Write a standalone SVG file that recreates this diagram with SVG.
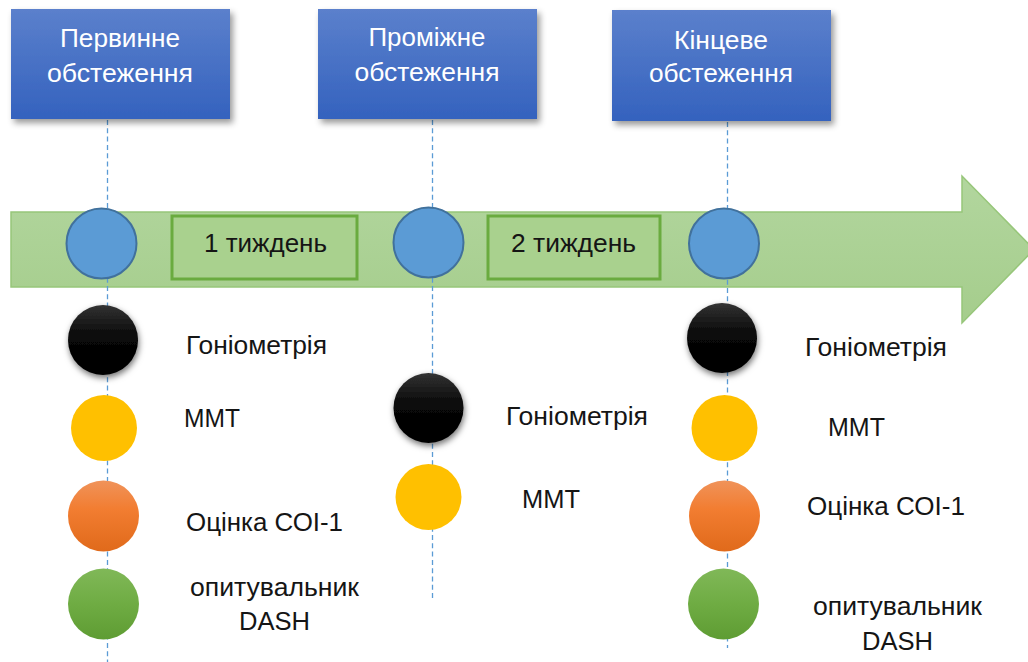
<svg xmlns="http://www.w3.org/2000/svg" width="1028" height="662" viewBox="0 0 1028 662">
<defs>
<linearGradient id="gBox" x1="0" y1="0" x2="0" y2="1"><stop offset="0" stop-color="#5b80cc"/><stop offset="1" stop-color="#3462be"/></linearGradient>
<linearGradient id="gArrow" x1="0" y1="0" x2="0" y2="1"><stop offset="0" stop-color="#b2d69e"/><stop offset="1" stop-color="#a5cd8c"/></linearGradient>
<linearGradient id="gBlack" x1="0" y1="0" x2="0" y2="1"><stop offset="0" stop-color="#333333"/><stop offset="0.45" stop-color="#080808"/><stop offset="1" stop-color="#000"/></linearGradient>
<linearGradient id="gOrange" x1="0" y1="0" x2="0" y2="1"><stop offset="0" stop-color="#f0935a"/><stop offset="0.4" stop-color="#f27d31"/><stop offset="1" stop-color="#e06a1b"/></linearGradient>
<linearGradient id="gGreen" x1="0" y1="0" x2="0" y2="1"><stop offset="0" stop-color="#80b858"/><stop offset="0.5" stop-color="#6fac43"/><stop offset="1" stop-color="#5e9c33"/></linearGradient>
<filter id="shBox" x="-10%" y="-10%" width="125%" height="130%"><feDropShadow dx="3" dy="4" stdDeviation="3" flood-color="#000" flood-opacity="0.4"/></filter>
<filter id="shDot" x="-30%" y="-30%" width="160%" height="170%"><feDropShadow dx="1" dy="3" stdDeviation="3" flood-color="#000" flood-opacity="0.55"/></filter>
</defs>
<style>
.box{fill:url(#gBox);filter:url(#shBox)}
.bt{font-family:"Liberation Sans",Arial,sans-serif;font-size:25px;fill:#ffffff;text-anchor:middle}
.lbl{font-family:"Liberation Sans",Arial,sans-serif;font-size:25px;fill:#151515}
.wk{fill:#a9d18e;stroke:#6aab3f;stroke-width:3}
.blue{fill:#5b9bd5;stroke:#41719c;stroke-width:2}
.dash{stroke:#5b9bd5;stroke-width:1.3;stroke-dasharray:5 3.3;fill:none}
.blk{fill:url(#gBlack);filter:url(#shDot)}
.yel{fill:#ffc000}
.org{fill:url(#gOrange)}
.grn{fill:url(#gGreen)}
</style>
<rect width="1028" height="662" fill="#ffffff"/>

<g id="timeline-arrow">
<path d="M11,212 H962 V176 L1034,249.5 L962,323 V287 H11 Z" fill="url(#gArrow)" stroke="#97c67a" stroke-width="1.5"/>
</g>

<g id="connectors">
<line class="dash" x1="107.5" y1="120" x2="107.5" y2="662"/>
<line class="dash" x1="432.5" y1="120" x2="432.5" y2="601"/>
<line class="dash" x1="727.5" y1="122" x2="727.5" y2="648"/>
</g>

<g id="box-primary">
<rect class="box" x="11" y="9" width="219" height="110"/>
<text class="bt" x="120" y="47" textLength="120" lengthAdjust="spacingAndGlyphs">Первинне</text>
<text class="bt" x="120" y="82" textLength="146" lengthAdjust="spacingAndGlyphs">обстеження</text>
</g>
<g id="box-intermediate">
<rect class="box" x="318" y="9" width="219" height="110"/>
<text class="bt" x="427" y="46" textLength="117" lengthAdjust="spacingAndGlyphs">Проміжне</text>
<text class="bt" x="427" y="81" textLength="145" lengthAdjust="spacingAndGlyphs">обстеження</text>
</g>
<g id="box-final">
<rect class="box" x="612" y="10" width="219" height="111"/>
<text class="bt" x="721" y="49" textLength="94" lengthAdjust="spacingAndGlyphs">Кінцеве</text>
<text class="bt" x="721" y="82" textLength="144" lengthAdjust="spacingAndGlyphs">обстеження</text>
</g>

<g id="week-1">
<rect class="wk" x="172" y="216" width="185" height="63"/>
<text class="lbl" x="204" y="252" textLength="123" lengthAdjust="spacingAndGlyphs">1 тиждень</text>
</g>
<g id="week-2">
<rect class="wk" x="488" y="216" width="172" height="63"/>
<text class="lbl" x="511" y="252" textLength="125" lengthAdjust="spacingAndGlyphs">2 тиждень</text>
</g>

<g id="milestone-1"><circle class="blue" cx="101.5" cy="243.5" r="35"/></g>
<g id="milestone-2"><circle class="blue" cx="428.5" cy="242.5" r="35"/></g>
<g id="milestone-3"><circle class="blue" cx="724" cy="243.5" r="35"/></g>

<g id="col1-goniometry">
<circle class="blk" cx="103" cy="340" r="35"/>
<text class="lbl" x="186" y="354" textLength="141" lengthAdjust="spacingAndGlyphs">Гоніометрія</text>
</g>
<g id="col1-mmt">
<circle class="yel" cx="104" cy="428" r="33"/>
<text class="lbl" x="184" y="427" textLength="56" lengthAdjust="spacingAndGlyphs">ММТ</text>
</g>
<g id="col1-coi">
<circle class="org" cx="103.5" cy="516" r="35.5"/>
<text class="lbl" x="186" y="531" textLength="157" lengthAdjust="spacingAndGlyphs">Оцінка СОІ-1</text>
</g>
<g id="col1-dash">
<circle class="grn" cx="103.5" cy="604" r="35.5"/>
<text class="lbl" x="190" y="596" textLength="169" lengthAdjust="spacingAndGlyphs">опитувальник</text>
<text class="lbl" x="239" y="630" textLength="71" lengthAdjust="spacingAndGlyphs">DASH</text>
</g>

<g id="col2-goniometry">
<circle class="blk" cx="428.5" cy="408" r="35"/>
<text class="lbl" x="506" y="425" textLength="142" lengthAdjust="spacingAndGlyphs">Гоніометрія</text>
</g>
<g id="col2-mmt">
<circle class="yel" cx="428.5" cy="497" r="33"/>
<text class="lbl" x="522" y="508" textLength="58" lengthAdjust="spacingAndGlyphs">ММТ</text>
</g>

<g id="col3-goniometry">
<circle class="blk" cx="722" cy="338" r="35"/>
<text class="lbl" x="805" y="356" textLength="142" lengthAdjust="spacingAndGlyphs">Гоніометрія</text>
</g>
<g id="col3-mmt">
<circle class="yel" cx="724.5" cy="428" r="33"/>
<text class="lbl" x="828" y="436" textLength="57" lengthAdjust="spacingAndGlyphs">ММТ</text>
</g>
<g id="col3-coi">
<circle class="org" cx="724.5" cy="516" r="35.5"/>
<text class="lbl" x="807" y="515" textLength="158" lengthAdjust="spacingAndGlyphs">Оцінка СОІ-1</text>
</g>
<g id="col3-dash">
<circle class="grn" cx="723.5" cy="604" r="35.5"/>
<text class="lbl" x="813" y="615" textLength="169" lengthAdjust="spacingAndGlyphs">опитувальник</text>
<text class="lbl" x="862" y="650" textLength="71" lengthAdjust="spacingAndGlyphs">DASH</text>
</g>
</svg>
